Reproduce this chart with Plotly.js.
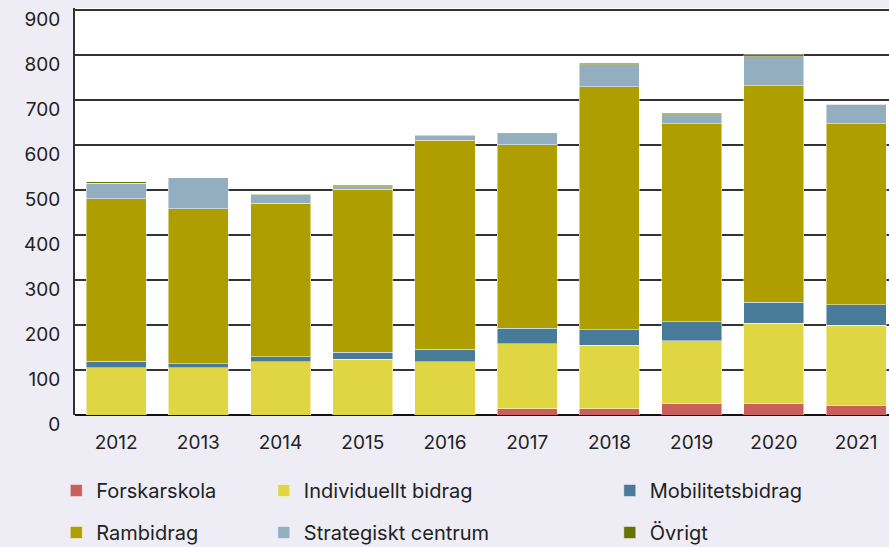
<!DOCTYPE html>
<html>
<head>
<meta charset="utf-8">
<script src="https://cdn.plot.ly/plotly-3.0.1.min.js"></script>
<style>html,body{margin:0;padding:0;background:#EEEDF5;}#chart{width:889px;height:547px;}</style>
</head>
<body>
<div id="chart"></div>
<script>
const years = ['2012','2013','2014','2015','2016','2017','2018','2019','2020','2021'];
const forskarskola = [0, 0, 0, 0, 0, 14, 14, 25, 25, 22];
const individuellt = [105, 105, 118, 124, 118, 144, 141, 140, 179, 178];
const mobilitet = [15, 9, 11, 16, 28, 35, 34, 42, 47, 45];
const rambidrag = [360, 344, 342, 362, 465, 407, 540, 440, 481, 402];
const strategiskt = [35, 69, 18, 5, 9, 25, 49, 20, 64, 43];
const ovrigt = [3, 0, 2, 3, 2, 2, 4, 4, 4, 2];
const yTicks = [0, 100, 200, 300, 400, 500, 600, 700, 800, 900];
const yMax = 900;

const FONT = 'Inter, "Open Sans", sans-serif';
function bar(name, vals, color, legend, group) {
  return {type: 'bar', name: name, x: years, y: vals, legend: legend, legendgroup: group,
    marker: {color: color, line: {color: 'rgba(255,255,255,0.6)', width: 0.8}}, hoverinfo: 'skip'};
}
const data = [
  bar('Forskarskola', forskarskola, '#C85F5C', 'legend', 'a'),
  bar('Individuellt bidrag', individuellt, '#E0D644', 'legend2', 'b'),
  bar('Mobilitetsbidrag', mobilitet, '#487A9A', 'legend3', 'c'),
  bar('Rambidrag', rambidrag, '#AE9E00', 'legend', 'd'),
  bar('Strategiskt centrum', strategiskt, '#93AEBF', 'legend2', 'e'),
  bar('Övrigt', ovrigt, '#667300', 'legend3', 'f')
];
const legBase = {orientation: 'v', xanchor: 'left', yanchor: 'top', yref: 'container', y: 0.139,
  bgcolor: 'rgba(0,0,0,0)',
  font: {family: FONT, size: 20, color: '#222'}, tracegroupgap: 13, traceorder: 'grouped',
  itemwidth: 30};
const layout = {
  width: 889, height: 547,
  paper_bgcolor: '#EEEDF5', plot_bgcolor: '#FFFFFF',
  margin: {l: 75, r: 0, t: 8, b: 132},
  barmode: 'stack', bargap: 0.27,
  font: {family: FONT, size: 19, color: '#222'},
  showlegend: true,
  xaxis: {type: 'category', range: [-0.5, 9.4], showgrid: false, zeroline: false,
    showline: false, ticks: '', ticklabelstandoff: 14, tickfont: {family: FONT, size: 19, color: '#222'}},
  yaxis: {range: [0, 904.4], tickvals: yTicks, ticktext: yTicks.map(String), showgrid: true,
    gridcolor: '#333333', gridwidth: 2, zeroline: true, zerolinecolor: '#111', zerolinewidth: 2,
    showline: true, linecolor: '#333333', linewidth: 2, ticks: '', ticklabelstandoff: 9,
    ticklabelshift: 9, tickfont: {family: FONT, size: 19, color: '#222'}},
  shapes: [{type: 'line', xref: 'paper', yref: 'y', x0: 0, x1: 1, y0: yMax, y1: yMax,
    line: {color: '#333333', width: 2}, layer: 'below'}],
  legend: Object.assign({}, legBase, {x: -0.023}),
  legend2: Object.assign({}, legBase, {x: 0.232}),
  legend3: Object.assign({}, legBase, {x: 0.657})
};
Plotly.newPlot('chart', data, layout, {displayModeBar: false, staticPlot: true});
</script>
</body>
</html>
